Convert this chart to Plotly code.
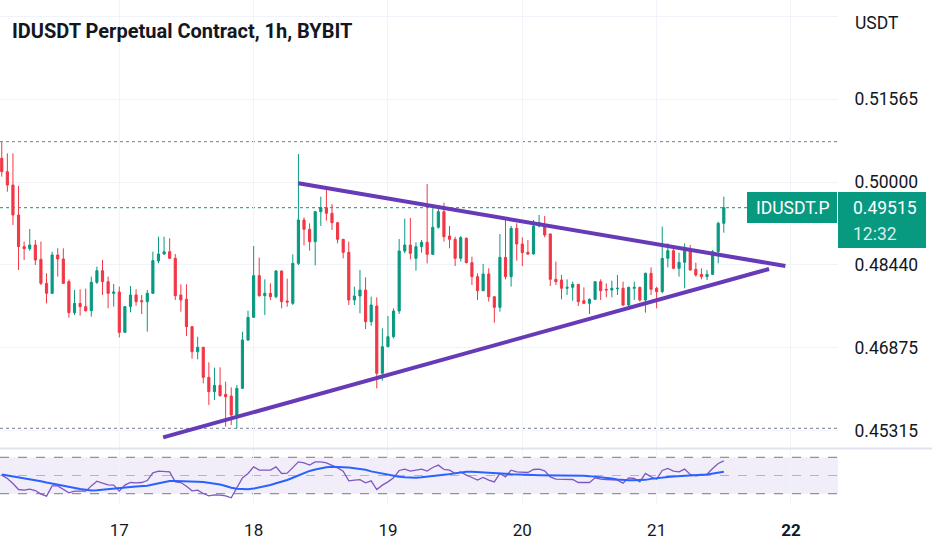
import pandas as pd
import plotly.graph_objects as go

title_text = "IDUSDT Perpetual Contract, 1h, BYBIT"
symbol_tag = "IDUSDT.P"
countdown = "12:32"
currency = "USDT"
first_candle = "2024-04-16 03:00"

open_ = [0.50447, 0.50195, 0.49943, 0.49377, 0.48780, 0.48742, 0.48811, 0.48541, 0.48088, 0.47899,
         0.48623, 0.48547, 0.48119, 0.47534, 0.47710, 0.47648, 0.47572, 0.48107, 0.48327, 0.48119,
         0.47899, 0.47924, 0.47163, 0.47648, 0.47868, 0.47761, 0.47742, 0.47899, 0.48510, 0.48641,
         0.48685, 0.48560, 0.47868, 0.47786, 0.47270, 0.46798, 0.46880, 0.46314, 0.46044, 0.46163,
         0.45993, 0.45962, 0.45603, 0.46106, 0.47019, 0.47446, 0.48233, 0.47855, 0.47899, 0.47836,
         0.48321, 0.47754, 0.47710, 0.48465, 0.49283, 0.49107, 0.48874, 0.49440, 0.49516, 0.49409,
         0.49233, 0.48918, 0.48673, 0.47773, 0.47849, 0.47962, 0.47364, 0.47660, 0.46390, 0.46893,
         0.47081, 0.47566, 0.48698, 0.48811, 0.48560, 0.48780, 0.48862, 0.48635, 0.49145, 0.49440,
         0.48981, 0.48918, 0.48560, 0.48937, 0.48478, 0.48214, 0.47949, 0.48264, 0.47836, 0.47635,
         0.48578, 0.48214, 0.49126, 0.48830, 0.48673, 0.48641, 0.49170, 0.49189, 0.49019, 0.48163,
         0.48151, 0.47994, 0.48012, 0.48069, 0.47761, 0.47710, 0.47786, 0.48119, 0.47975, 0.47962,
         0.47987, 0.47994, 0.47679, 0.47994, 0.48012, 0.47773, 0.48277, 0.47994, 0.47931, 0.48560,
         0.48704, 0.48371, 0.48484, 0.48704, 0.48352, 0.48258, 0.48214, 0.48258, 0.48685, 0.49220]
high = [0.50761, 0.50541, 0.50541, 0.49925, 0.48874, 0.49113, 0.48906, 0.48874, 0.48277, 0.48685,
        0.48748, 0.48748, 0.48163, 0.47962, 0.47975, 0.47987, 0.48214, 0.48402, 0.48528, 0.48214,
        0.48075, 0.48025, 0.47660, 0.48038, 0.47975, 0.47868, 0.47962, 0.48685, 0.48968, 0.48968,
        0.48937, 0.48641, 0.48069, 0.48069, 0.47283, 0.47081, 0.46893, 0.46597, 0.46497, 0.46503,
        0.46232, 0.46125, 0.46169, 0.47176, 0.47572, 0.48792, 0.48572, 0.48163, 0.48088, 0.48340,
        0.48330, 0.48176, 0.48635, 0.50528, 0.49333, 0.49220, 0.49450, 0.49723, 0.49893, 0.49585,
        0.49240, 0.48925, 0.48874, 0.48025, 0.48339, 0.48201, 0.47836, 0.47824, 0.47239, 0.47471,
        0.47616, 0.48924, 0.49308, 0.49321, 0.48862, 0.48906, 0.49962, 0.49503, 0.49566, 0.49610,
        0.49170, 0.48968, 0.48981, 0.48956, 0.48591, 0.48277, 0.48453, 0.48371, 0.47840, 0.49019,
        0.49333, 0.49170, 0.49220, 0.48956, 0.48906, 0.49283, 0.49377, 0.49358, 0.49031, 0.48497,
        0.48245, 0.48163, 0.48119, 0.48075, 0.48012, 0.47805, 0.48125, 0.48163, 0.48088, 0.48138,
        0.48245, 0.48119, 0.48025, 0.48119, 0.48025, 0.48289, 0.48390, 0.48025, 0.49157, 0.48843,
        0.48780, 0.48667, 0.48843, 0.48811, 0.48478, 0.48371, 0.48339, 0.48717, 0.49251, 0.49723]
low = [0.50101, 0.49818, 0.49189, 0.48339, 0.48528, 0.48704, 0.48434, 0.48056, 0.47710, 0.47890,
       0.48214, 0.48075, 0.47440, 0.47490, 0.47478, 0.47553, 0.47459, 0.48075, 0.47868, 0.47616,
       0.47648, 0.47069, 0.47150, 0.47541, 0.47666, 0.47509, 0.47176, 0.47890, 0.48465, 0.48623,
       0.48550, 0.47773, 0.47553, 0.47094, 0.46666, 0.46654, 0.46201, 0.45792, 0.45886, 0.45949,
       0.45383, 0.45415, 0.45352, 0.46100, 0.47000, 0.47440, 0.47836, 0.47490, 0.47773, 0.47805,
       0.47616, 0.47648, 0.47679, 0.48434, 0.48805, 0.48704, 0.48428, 0.49170, 0.49270, 0.49094,
       0.48843, 0.48560, 0.47679, 0.47679, 0.47522, 0.47226, 0.47289, 0.46106, 0.46251, 0.46880,
       0.47050, 0.47510, 0.48654, 0.48541, 0.48327, 0.48667, 0.48465, 0.48622, 0.49120, 0.48874,
       0.48748, 0.48415, 0.48497, 0.48465, 0.48056, 0.47773, 0.47940, 0.47742, 0.47346, 0.47553,
       0.48163, 0.48025, 0.48516, 0.48415, 0.48622, 0.48630, 0.49145, 0.48956, 0.48038, 0.48056,
       0.47786, 0.47868, 0.47761, 0.47660, 0.47698, 0.47509, 0.47780, 0.47773, 0.47824, 0.47824,
       0.47868, 0.47660, 0.47660, 0.47773, 0.47742, 0.47534, 0.47868, 0.47616, 0.47899, 0.48390,
       0.48352, 0.48214, 0.47994, 0.48330, 0.48214, 0.48163, 0.48151, 0.48245, 0.48465, 0.49044]
close = [0.50195, 0.49943, 0.49377, 0.48780, 0.48742, 0.48811, 0.48528, 0.48088, 0.47899, 0.48623,
         0.48547, 0.48088, 0.47534, 0.47710, 0.47648, 0.47572, 0.48107, 0.48327, 0.48119, 0.47899,
         0.47924, 0.47163, 0.47648, 0.47868, 0.47742, 0.47742, 0.47899, 0.48516, 0.48641, 0.48685,
         0.48560, 0.47855, 0.47773, 0.47270, 0.46798, 0.46880, 0.46314, 0.46044, 0.46163, 0.45968,
         0.45949, 0.45603, 0.46106, 0.47019, 0.47446, 0.48233, 0.47855, 0.47899, 0.47836, 0.48321,
         0.47742, 0.47736, 0.48465, 0.49283, 0.49107, 0.48874, 0.49440, 0.49516, 0.49409, 0.49233,
         0.48918, 0.48673, 0.47773, 0.47849, 0.47962, 0.47364, 0.47679, 0.46390, 0.46893, 0.47081,
         0.47566, 0.48698, 0.48811, 0.48654, 0.48780, 0.48862, 0.48635, 0.49145, 0.49440, 0.48968,
         0.48918, 0.48560, 0.48950, 0.48478, 0.48214, 0.47949, 0.48264, 0.47836, 0.47635, 0.48578,
         0.48214, 0.49126, 0.48830, 0.48667, 0.48641, 0.49170, 0.49233, 0.49000, 0.48163, 0.48119,
         0.47994, 0.48012, 0.48069, 0.47742, 0.47710, 0.47786, 0.48119, 0.47949, 0.47962, 0.47994,
         0.47994, 0.47679, 0.48012, 0.48012, 0.47773, 0.48277, 0.47975, 0.47931, 0.48560, 0.48704,
         0.48371, 0.48484, 0.48748, 0.48339, 0.48245, 0.48214, 0.48258, 0.48685, 0.49220, 0.49515]

rsi = [50.4, 46.7, 41.2, 34.6, 33.9, 35.0, 33.5, 29.5, 27.3, 38.6,
       38.6, 35.0, 31.0, 32.8, 33.2, 32.8, 38.6, 43.8, 41.6, 39.7,
       39.4, 32.8, 39.4, 42.3, 41.9, 42.3, 44.5, 52.9, 54.8, 54.8,
       54.0, 43.0, 42.3, 38.3, 33.2, 33.9, 30.2, 27.7, 28.8, 28.4,
       27.7, 25.5, 35.7, 47.4, 52.2, 59.5, 55.9, 55.9, 55.9, 59.5,
       52.2, 52.6, 58.4, 65.0, 63.9, 61.4, 65.0, 65.0, 63.9, 61.4,
       58.4, 54.8, 44.1, 44.9, 45.5, 41.9, 44.1, 34.6, 39.4, 43.0,
       47.4, 55.5, 57.0, 54.8, 56.2, 57.0, 54.8, 58.8, 61.4, 56.6,
       55.9, 52.2, 54.0, 50.4, 47.8, 44.9, 47.8, 44.9, 43.0, 52.2,
       48.5, 55.9, 54.0, 53.3, 53.3, 56.6, 57.0, 55.1, 48.5, 46.0,
       46.0, 45.2, 45.6, 42.3, 41.9, 42.3, 47.4, 46.0, 45.6, 45.2,
       44.9, 41.6, 47.4, 46.7, 43.0, 52.2, 48.5, 46.0, 55.5, 57.7,
       54.8, 54.0, 57.0, 51.1, 49.6, 50.4, 51.5, 57.7, 63.2, 66.1]
rsi_ma = [51.0, 50.0, 49.0, 48.0, 47.2, 46.2, 45.3, 43.6, 42.2, 40.9,
          39.6, 38.3, 37.3, 36.2, 35.2, 34.3, 33.5, 33.8, 34.5, 35.2,
          35.8, 36.5, 37.0, 37.4, 37.8, 38.1, 38.8, 40.0, 41.5, 43.0,
          44.0, 44.0, 43.6, 43.4, 43.3, 43.1, 42.8, 42.0, 41.0, 40.2,
          38.5, 36.5, 35.5, 35.0, 35.0, 35.6, 36.7, 38.0, 39.5, 41.5,
          43.0, 45.0, 47.5, 50.0, 52.5, 55.0, 56.5, 58.0, 59.0, 59.5,
          59.5, 59.3, 58.9, 58.0, 57.2, 56.2, 54.5, 53.3, 52.0, 50.5,
          49.3, 48.6, 48.0, 47.4, 47.6, 48.0, 48.5, 49.3, 50.2, 50.8,
          51.5, 52.5, 53.5, 54.0, 54.0, 53.8, 53.6, 53.3, 53.2, 52.5,
          52.0, 51.5, 51.1, 51.0, 50.8, 50.6, 50.4, 50.4, 50.4, 50.4,
          50.4, 50.4, 50.4, 50.2, 49.8, 49.3, 48.8, 48.4, 47.6, 46.6,
          45.6, 44.9, 44.9, 44.9, 44.9, 45.2, 46.3, 47.2, 47.8, 48.3,
          49.0, 49.5, 49.9, 50.3, 50.6, 50.8, 51.2, 52.0, 53.0, 54.0]

price_ticks = [0.453125, 0.46875, 0.484375, 0.5, 0.515625, 0.53125]
price_tick_labels = ["0.45315", "0.46875", "0.48440", "0.50000", "0.51565", ""]
day_ticks = ["2024-04-17", "2024-04-18", "2024-04-19", "2024-04-20", "2024-04-21", "2024-04-22"]
day_labels = ["17", "18", "19", "20", "21", "<b>22</b>"]

trend_upper_t = ["2024-04-18 08:00", "2024-04-21 23:00"]
trend_upper_p = [0.49975, 0.48415]
trend_lower_t = ["2024-04-17 07:50", "2024-04-21 20:05"]
trend_lower_p = [0.45182, 0.48358]

rsi_levels = [70, 50, 30]

# ---------------- layout geometry ----------------
W, H = 932, 550
M_L, M_R, M_T, M_B = 0, 94, 0, 45
PW = W - M_L - M_R          # 838
PH = H - M_T - M_B          # 505
PRICE_BOTTOM_PX = 448
RSI_TOP_PX = 449
price_range = [0.449806, 0.534343]
rsi_range = [17.6, 79.1]
x_range = ["2024-04-16 02:41:15", "2024-04-22 08:24"]

GREEN = "#089981"
RED = "#F23645"
TEXT = "#131722"
GRID = "#F0F3FA"
FONT = "Roboto"

times = pd.date_range(first_candle, periods=len(close), freq="h")

price_dom = [1 - PRICE_BOTTOM_PX / PH, 1]
rsi_dom = [0, 1 - RSI_TOP_PX / PH]


def price_to_px(p):
    return (price_range[1] - p) / (price_range[1] - price_range[0]) * PRICE_BOTTOM_PX


def px_to_paper_y(py):
    return 1 - py / PH


def px_to_paper_x(px):
    return px / PW


fig = go.Figure()

fig.add_trace(go.Candlestick(
    x=times, open=open_, high=high, low=low, close=close,
    increasing=dict(line=dict(color=GREEN, width=1), fillcolor=GREEN),
    decreasing=dict(line=dict(color=RED, width=1), fillcolor=RED),
    whiskerwidth=0, hoverinfo="skip", showlegend=False,
    xaxis="x", yaxis="y",
))

fig.add_trace(go.Scatter(x=trend_upper_t, y=trend_upper_p, mode="lines",
                         line=dict(color="#673AB7", width=4), hoverinfo="skip",
                         showlegend=False, xaxis="x", yaxis="y"))
fig.add_trace(go.Scatter(x=trend_lower_t, y=trend_lower_p, mode="lines",
                         line=dict(color="#673AB7", width=4), hoverinfo="skip",
                         showlegend=False, xaxis="x", yaxis="y"))

fig.add_trace(go.Scatter(x=times, y=rsi, mode="lines",
                         line=dict(color="#7E57C2", width=1.3), hoverinfo="skip",
                         showlegend=False, xaxis="x", yaxis="y2"))
fig.add_trace(go.Scatter(x=times, y=rsi_ma, mode="lines",
                         line=dict(color="#2962FF", width=2), hoverinfo="skip",
                         showlegend=False, xaxis="x", yaxis="y2"))

shapes = []
# RSI band
shapes.append(dict(type="rect", xref="paper", yref="y2", x0=0, x1=1,
                   y0=rsi_levels[2], y1=rsi_levels[0],
                   fillcolor="rgba(126,87,194,0.1)", line=dict(width=0), layer="below"))
for lv in rsi_levels:
    col = "rgba(120,123,134,0.5)" if lv == 50 else "#787B86"
    shapes.append(dict(type="line", xref="paper", yref="y2", x0=0, x1=1, y0=lv, y1=lv,
                       line=dict(color=col, width=1, dash="dash"), layer="between"))

# high / low / last price lines
for lvl, col in [(max(high), "#787B86"), (min(low), "#787B86"), (close[-1], GREEN)]:
    shapes.append(dict(type="line", xref="paper", yref="y", x0=0, x1=1, y0=lvl, y1=lvl,
                       line=dict(color=col, width=1, dash="dot"), layer="between"))

# pane separator
sep_y = px_to_paper_y((PRICE_BOTTOM_PX + RSI_TOP_PX) / 2)
shapes.append(dict(type="line", xref="paper", yref="paper", x0=0, x1=W / PW,
                   y0=sep_y, y1=sep_y, line=dict(color="#E0E3EB", width=2)))

# price tags
last_px = price_to_px(close[-1])
tag_top = last_px - 15.7
shapes.append(dict(type="rect", xref="paper", yref="paper",
                   x0=1.0, x1=px_to_paper_x(926),
                   y0=px_to_paper_y(last_px + 40.3), y1=px_to_paper_y(tag_top),
                   fillcolor=GREEN, line=dict(width=0)))
shapes.append(dict(type="rect", xref="paper", yref="paper",
                   x0=px_to_paper_x(747), x1=px_to_paper_x(837),
                   y0=px_to_paper_y(last_px + 15.3), y1=px_to_paper_y(tag_top),
                   fillcolor=GREEN, line=dict(width=0)))

annotations = [
    dict(text="<b>%s</b>" % title_text, xref="paper", yref="paper",
         x=px_to_paper_x(10), y=px_to_paper_y(30.5), xanchor="left", yanchor="middle",
         showarrow=False, font=dict(family=FONT, size=20, color=TEXT)),
    dict(text=currency, xref="paper", yref="paper",
         x=px_to_paper_x(853), y=px_to_paper_y(23), xanchor="left", yanchor="middle",
         showarrow=False, font=dict(family=FONT, size=17.5, color=TEXT)),
    dict(text="%.5f" % close[-1], xref="paper", yref="paper",
         x=px_to_paper_x(851), y=px_to_paper_y(last_px), xanchor="left", yanchor="middle",
         showarrow=False, font=dict(family=FONT, size=17.5, color="#FFFFFF")),
    dict(text=countdown, xref="paper", yref="paper",
         x=px_to_paper_x(851), y=px_to_paper_y(last_px + 26.5), xanchor="left", yanchor="middle",
         showarrow=False, font=dict(family=FONT, size=17.5, color="rgba(255,255,255,0.85)")),
    dict(text=symbol_tag, xref="paper", yref="paper",
         x=px_to_paper_x(792), y=px_to_paper_y(last_px), xanchor="center", yanchor="middle",
         showarrow=False, font=dict(family=FONT, size=17.5, color="#FFFFFF")),
]

fig.update_layout(
    width=W, height=H,
    margin=dict(l=M_L, r=M_R, t=M_T, b=M_B, pad=0),
    paper_bgcolor="white", plot_bgcolor="white",
    showlegend=False, hovermode=False, boxgap=0.45,
    font=dict(family=FONT, color=TEXT),
    xaxis=dict(type="date", range=x_range, anchor="y2", domain=[0, 1],
               tickvals=day_ticks, ticktext=day_labels,
               showgrid=True, gridcolor=GRID, gridwidth=1, zeroline=False, showline=False,
               ticks="outside", ticklen=10, tickcolor="rgba(0,0,0,0)",
               tickfont=dict(family=FONT, size=17, color=TEXT),
               rangeslider=dict(visible=False), fixedrange=True),
    yaxis=dict(domain=price_dom, range=price_range, side="right", anchor="x",
               tickvals=price_ticks, ticktext=price_tick_labels,
               showgrid=True, gridcolor=GRID, gridwidth=1, zeroline=False, showline=False,
               ticks="outside", ticklen=12, tickcolor="rgba(0,0,0,0)",
               tickfont=dict(family=FONT, size=17.5, color=TEXT), fixedrange=True),
    yaxis2=dict(domain=rsi_dom, range=rsi_range, side="right", anchor="x",
                showticklabels=False, showgrid=False, zeroline=False, showline=False,
                ticks="", fixedrange=True),
    shapes=shapes,
    annotations=annotations,
)

fig.write_html("out.html", config={"displayModeBar": False},
               post_script="document.body.style.margin='0';document.body.style.overflow='hidden';")
